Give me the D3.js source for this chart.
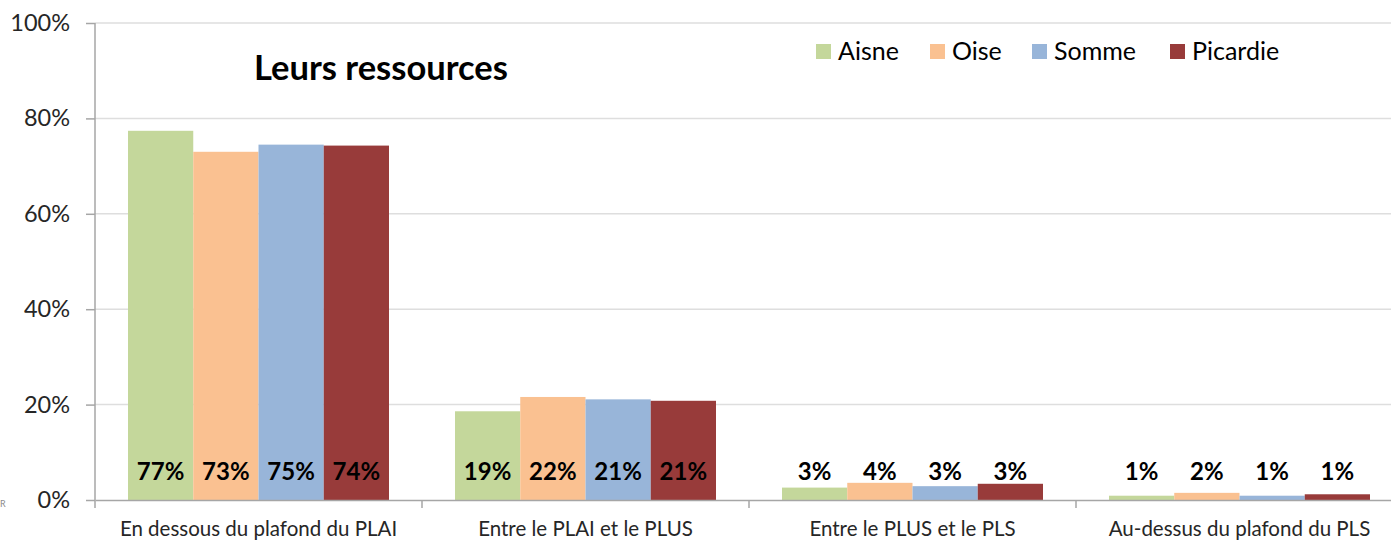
<!DOCTYPE html>
<html>
<head>
<meta charset="utf-8">
<script src="https://cdn.jsdelivr.net/npm/d3@7"></script>
<style>
  body { margin: 0; background: #fff; }
  svg { display: block; font-family: Lato, "Open Sans", sans-serif; }
</style>
</head>
<body>
<div id="chart-div"></div>
<script>
const categories = ['En dessous du plafond du PLAI', 'Entre le PLAI et le PLUS', 'Entre le PLUS et le PLS', 'Au-dessus du plafond du PLS'];
const series = ['Aisne', 'Oise', 'Somme', 'Picardie'];
const aisne = [77.4, 18.6, 2.6, 0.9];
const oise = [73.0, 21.6, 3.6, 1.5];
const somme = [74.5, 21.1, 2.9, 0.9];
const picardie = [74.3, 20.8, 3.4, 1.2];
const yTicks = [0, 20, 40, 60, 80, 100];
const colors = ['#c4d79b', '#fac191', '#98b5d9', '#983b3a'];

const w = 1391;
const h = 544;
const padLeft = 95;
const padTop = 23;
const baseY = 500;
const bandW = 327;

const values = [aisne, oise, somme, picardie];

const svg = d3.select('#chart-div')
  .append('svg')
  .attr('width', w)
  .attr('height', h);

const yScale = d3.scaleLinear()
  .domain([0, 100])
  .range([baseY, padTop]);

const xScale = d3.scaleBand()
  .domain(categories)
  .range([padLeft, padLeft + bandW * categories.length]);

const xInner = d3.scaleBand()
  .domain(series)
  .range([33, bandW - 33]);

// gridlines
svg.append('g')
  .selectAll('line')
  .data(yTicks.filter(d => d > 0))
  .enter()
  .append('line')
  .attr('x1', padLeft)
  .attr('x2', padLeft + bandW * categories.length)
  .attr('y1', d => yScale(d))
  .attr('y2', d => yScale(d))
  .attr('stroke', '#dedede')
  .attr('stroke-width', 1.5);

// bars
const groups = svg.append('g')
  .selectAll('g')
  .data(categories)
  .enter()
  .append('g')
  .attr('transform', d => 'translate(' + xScale(d) + ',0)');

groups.selectAll('rect')
  .data((c, ci) => series.map((s, si) => ({ s: s, si: si, v: values[si][ci] })))
  .enter()
  .append('rect')
  .attr('x', d => xInner(d.s))
  .attr('y', d => yScale(d.v))
  .attr('width', xInner.bandwidth())
  .attr('height', d => baseY - yScale(d.v))
  .attr('fill', d => colors[d.si]);

// data labels, all on one line near the base
groups.selectAll('text')
  .data((c, ci) => series.map((s, si) => ({ s: s, v: values[si][ci] })))
  .enter()
  .append('text')
  .attr('x', d => xInner(d.s) + xInner.bandwidth() / 2)
  .attr('y', baseY - 20)
  .attr('text-anchor', 'middle')
  .attr('font-size', 24)
  .attr('font-weight', 'bold')
  .attr('fill', '#000')
  .text(d => Math.round(d.v) + '%');

// y axis
const yAxis = d3.axisLeft(yScale)
  .tickValues(yTicks)
  .tickSize(9)
  .tickPadding(16)
  .tickFormat(d => d + '%');

const gy = svg.append('g')
  .attr('transform', 'translate(' + padLeft + ',0)')
  .call(yAxis);
gy.select('.domain').attr('stroke', '#a6a6a6').attr('stroke-width', 1.5).attr('d', 'M0,' + padTop + 'V' + (baseY + 8));
gy.selectAll('.tick line').attr('stroke', '#a6a6a6').attr('stroke-width', 1.5);
gy.selectAll('.tick text')
  .attr('font-size', 23.5)
  .attr('fill', '#262626')
  .attr('font-family', 'Lato, sans-serif');

// x axis
const xAxis = d3.axisBottom(xScale)
  .tickSize(0)
  .tickPadding(21);

const gx = svg.append('g')
  .attr('transform', 'translate(0,' + baseY + ')')
  .call(xAxis);
gx.select('.domain').attr('stroke', '#a6a6a6').attr('stroke-width', 1.5);
gx.selectAll('.tick text')
  .attr('font-size', 20.5)
  .attr('fill', '#262626')
  .attr('font-family', 'Lato, sans-serif');

// category boundary ticks
gx.selectAll('.sep')
  .data(categories.slice(1))
  .enter()
  .append('line')
  .attr('class', 'sep')
  .attr('x1', d => xScale(d))
  .attr('x2', d => xScale(d))
  .attr('y1', 0)
  .attr('y2', 8)
  .attr('stroke', '#a6a6a6')
  .attr('stroke-width', 1.5);

// title
svg.append('text')
  .attr('x', 381)
  .attr('y', 80)
  .attr('text-anchor', 'middle')
  .attr('font-size', 34.5)
  .attr('font-weight', 'bold')
  .attr('fill', '#000')
  .text('Leurs ressources');

// legend
const legendX = [816, 930, 1032, 1170];
const legend = svg.append('g')
  .selectAll('g')
  .data(series)
  .enter()
  .append('g')
  .attr('transform', (d, i) => 'translate(' + legendX[i] + ',44)');

legend.append('rect')
  .attr('width', 15)
  .attr('height', 15)
  .attr('fill', (d, i) => colors[i]);

legend.append('text')
  .attr('x', 22)
  .attr('y', 16)
  .attr('font-size', 25)
  .attr('fill', '#000')
  .text(d => d);

// cropped leftover from the source image
svg.append('text')
  .attr('x', 0)
  .attr('y', 507)
  .attr('font-size', 9)
  .attr('fill', '#8c8c8c')
  .text('R');
</script>
</body>
</html>
